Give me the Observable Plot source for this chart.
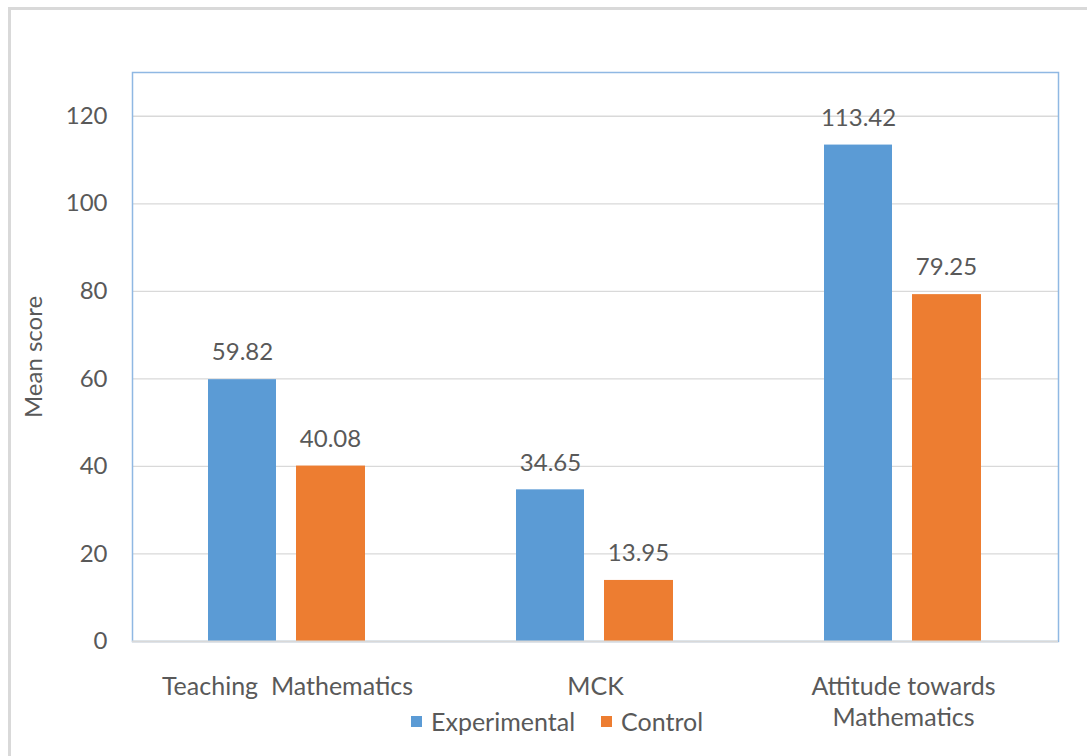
<!DOCTYPE html>
<html>
<head>
<meta charset="utf-8">
<script src="https://cdn.jsdelivr.net/npm/d3@7"></script>
<script src="https://cdn.jsdelivr.net/npm/@observablehq/plot@0.6"></script>
<style>
  html, body { margin: 0; padding: 0; background: #fff; overflow: hidden; }
  #wrap { position: relative; width: 1087px; height: 756px; font-family: Lato, "Open Sans", sans-serif; }
  #outer { position: absolute; left: 8px; top: 7px; width: 1200px; height: 900px; border-left: 3px solid #d9d9d9; border-top: 3px solid #d9d9d9; box-sizing: border-box; }
  #chart { position: absolute; left: 0; top: 0; }
  #legend { position: absolute; left: 411px; top: 706px; display: flex; align-items: center; font-size: 25px; color: #595959; white-space: nowrap; }
  .item { display: flex; align-items: center; margin-right: 26px; }
  .sw { width: 11px; height: 11px; margin-right: 9px; }
</style>
</head>
<body>
<div id="wrap">
  <div id="outer"></div>
  <div id="chart"></div>
  <div id="legend"></div>
</div>
<script>
const categories = ["Teaching  Mathematics", "MCK", "Attitude towards Mathematics"];
const seriesNames = ["Experimental", "Control"];
const experimental = [59.82, 34.65, 113.42];
const control = [40.08, 13.95, 79.25];
const yTicks = [0, 20, 40, 60, 80, 100, 120];
const colors = ["#5b9bd5", "#ed7d31"];

const tickLabel = (d) => d === "Attitude towards Mathematics" ? "Attitude towards\nMathematics" : d.replace("  ", " \u00a0");

const expData = categories.map((c, i) => ({cat: c, series: seriesNames[0], value: experimental[i]}));
const ctlData = categories.map((c, i) => ({cat: c, series: seriesNames[1], value: control[i]}));

const chart = Plot.plot({
  width: 1087,
  height: 756,
  marginLeft: 132,
  marginRight: 29,
  marginTop: 72,
  marginBottom: 115,
  style: {fontFamily: "Lato, 'Open Sans', sans-serif", fontSize: "24px", color: "#595959", background: "transparent", overflow: "visible"},
  x: {domain: categories, padding: 0},
  y: {domain: [0, 130]},
  marks: [
    Plot.gridY(yTicks.filter(d => d > 0), {stroke: "#d9d9d9", strokeOpacity: 1, strokeWidth: 1.3}),
    Plot.frame({stroke: "#8fb8e3", strokeWidth: 1.5}),
    Plot.barY(expData, {x: "cat", y: "value", fill: colors[0], insetLeft: 75, insetRight: 165}),
    Plot.barY(ctlData, {x: "cat", y: "value", fill: colors[1], insetLeft: 163, insetRight: 76}),
    Plot.ruleY([0], {stroke: "#d9d9d9", strokeWidth: 2}),
    Plot.text(expData, {x: "cat", y: "value", text: d => d.value.toFixed(2), dx: -45, dy: -27, fill: "#595959", fontSize: 24}),
    Plot.text(ctlData, {x: "cat", y: "value", text: d => d.value.toFixed(2), dx: 43, dy: -27, fill: "#595959", fontSize: 24}),
    Plot.axisY(yTicks, {tickSize: 0, tickPadding: 25, label: "Mean score", labelArrow: "none", labelAnchor: "center", labelOffset: 108, fontSize: 24}),
    Plot.axisX({tickSize: 0, tickPadding: 31, label: null, tickFormat: tickLabel, lineHeight: 1.25, fontSize: 25})
  ]
});
document.getElementById("chart").appendChild(chart);

const legend = document.getElementById("legend");
seriesNames.forEach((s, i) => {
  const item = document.createElement("div");
  item.className = "item";
  const sw = document.createElement("span");
  sw.className = "sw";
  sw.style.background = colors[i];
  const t = document.createElement("span");
  t.textContent = s;
  item.appendChild(sw);
  item.appendChild(t);
  legend.appendChild(item);
});
</script>
</body>
</html>
